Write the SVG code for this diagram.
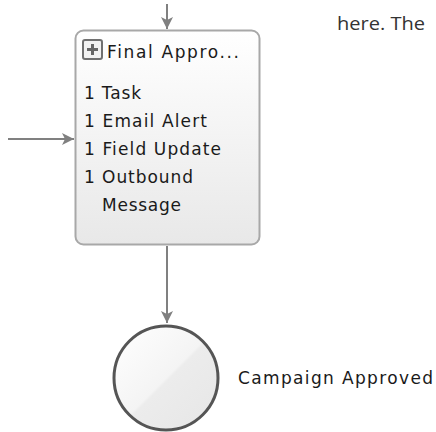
<svg xmlns="http://www.w3.org/2000/svg" width="436" height="432" viewBox="0 0 436 432">
<defs>
<linearGradient id="boxg" x1="0" y1="0" x2="0" y2="1">
<stop offset="0" stop-color="#ffffff"/>
<stop offset="1" stop-color="#e8e8e8"/>
</linearGradient>
<linearGradient id="circg" x1="0" y1="0" x2="1" y2="1">
<stop offset="0" stop-color="#ffffff"/>
<stop offset="0.5" stop-color="#f4f4f4"/>
<stop offset="0.52" stop-color="#ececec"/>
<stop offset="1" stop-color="#e6e6e6"/>
</linearGradient>
<marker id="arr" viewBox="0 0 12 12" refX="12" refY="6" markerWidth="12" markerHeight="12" markerUnits="userSpaceOnUse" orient="auto">
<path d="M0,0 L12,6 L0,12 L3,6 Z" fill="#808080"/>
</marker>
<style>
.lbl{font-family:"DejaVu Sans",Verdana,sans-serif;font-size:17px;fill:#1a1a1a}
.conn{stroke:#808080;stroke-width:2;fill:none}
</style>
</defs>
<g id="connectors">
<path class="conn" d="M167,4 V29" marker-end="url(#arr)"/>
<path class="conn" d="M8,139 H74" marker-end="url(#arr)"/>
<path class="conn" d="M167,246 V323" marker-end="url(#arr)"/>
</g>
<g id="final-approval">
<rect x="75.5" y="30.5" width="184" height="214" rx="8" fill="url(#boxg)" stroke="#a8a8a8" stroke-width="2"/>
<rect x="83" y="40" width="19" height="19" rx="2" fill="#f2f2f2" stroke="#707070" stroke-width="2"/>
<path d="M92.5,44 V55 M87,49.5 H98" stroke="#666" stroke-width="3"/>
<text class="lbl" x="107" y="58" textLength="132" lengthAdjust="spacing">Final Appro...</text>
<text class="lbl" x="84" y="99" textLength="57" lengthAdjust="spacing">1 Task</text>
<text class="lbl" x="84" y="127" textLength="123" lengthAdjust="spacing">1 Email Alert</text>
<text class="lbl" x="84" y="155" textLength="137" lengthAdjust="spacing">1 Field Update</text>
<text class="lbl" x="84" y="183" textLength="109" lengthAdjust="spacing">1 Outbound</text>
<text class="lbl" x="102" y="211" textLength="79" lengthAdjust="spacing">Message</text>
</g>
<g id="campaign-approved">
<circle cx="166" cy="378" r="52" fill="url(#circg)" stroke="#555555" stroke-width="3"/>
<text class="lbl" x="238" y="384" textLength="195" lengthAdjust="spacing">Campaign Approved</text>
</g>
<g id="note">
<text x="337" y="30" font-family="'Open Sans','Liberation Sans',sans-serif" font-size="18" fill="#333333" textLength="88" lengthAdjust="spacingAndGlyphs">here. The</text>
</g>
</svg>
